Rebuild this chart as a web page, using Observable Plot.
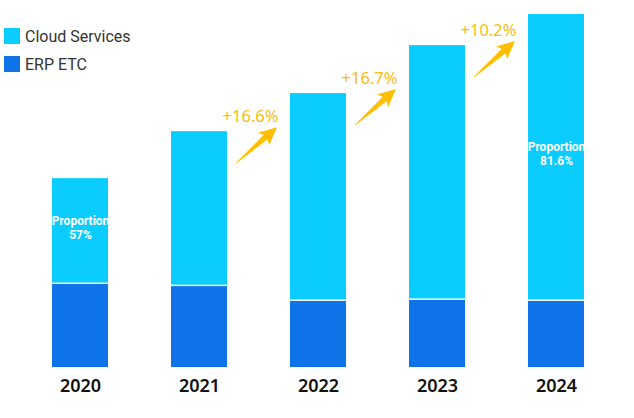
<!DOCTYPE html>
<html>
<head>
<meta charset="utf-8">
<script src="https://cdn.jsdelivr.net/npm/d3@7"></script>
<script src="https://cdn.jsdelivr.net/npm/@observablehq/plot@0.6"></script>
<style>
  html, body { margin: 0; padding: 0; background: #fff; }
  #wrap { position: relative; width: 634px; height: 418px; }
  .legend { position: absolute; left: 4px; top: 28px; font-family: Roboto, "Noto Sans", sans-serif; font-size: 16px; color: #333; }
  .legend .item { display: flex; align-items: center; height: 16px; margin-bottom: 12px; }
  .legend .sw { width: 16px; height: 16px; margin-right: 5px; }
</style>
</head>
<body>
<div id="wrap">
  <div class="legend" id="legend"></div>
</div>
<script>
// ---- data ----
const years = ["2020", "2021", "2022", "2023", "2024"];
const erpValues = [23.5, 22.9, 18.7, 19.0, 18.7];
const cloudValues = [30.0, 43.9, 58.9, 72.2, 81.3];
const seriesNames = ["Cloud Services", "ERP ETC"];
const seriesColors = ["#0ACCFF", "#0E72E8"];
const growthFrom = ["2021", "2022", "2023"];
const growthLabels = ["+16.6%", "+16.7%", "+10.2%"];
const proportionYears = ["2020", "2024"];
const proportionLabels = ["Proportion\n57%", "Proportion\n81.6%"];

const rows = years.map((year, i) => ({
  year, erp: erpValues[i], cloud: cloudValues[i], total: erpValues[i] + cloudValues[i]
}));
const byYear = new Map(rows.map(d => [d.year, d]));
const growth = growthFrom.map((year, i) => ({year, label: growthLabels[i], total: byYear.get(year).total}));
const props = proportionYears.map((year, i) => {
  const r = byYear.get(year);
  return {year, label: proportionLabels[i], mid: r.erp + r.cloud / 2};
});

const gold = "#FFBF00";

const chart = Plot.plot({
  width: 634,
  height: 418,
  marginLeft: 51,
  marginRight: 50,
  marginTop: 14,
  marginBottom: 51,
  style: {background: "transparent", overflow: "visible"},
  x: {domain: years, paddingInner: 0.53, paddingOuter: 0, label: null},
  y: {domain: [0, 100], axis: null},
  marks: [
    Plot.barY(rows, {x: "year", y1: 0, y2: "erp", fill: seriesColors[1]}),
    Plot.barY(rows, {x: "year", y1: "erp", y2: "total", fill: seriesColors[0], insetBottom: 1.5}),
    Plot.text(props, {
      x: "year", y: "mid", text: "label", fill: "white", fontWeight: "bold",
      fontSize: 12, lineHeight: 1.17, dy: -4,
      fontFamily: "Roboto, 'Noto Sans', sans-serif"
    }),
    Plot.text(growth, {
      x: "year", y: "total", text: "label", fill: "#F9BC12", fontSize: 16.5,
      fontFamily: "'Noto Sans', sans-serif", dx: 51, dy: -15, lineAnchor: "middle"
    }),
    Plot.axisX({
      tickSize: 0, tickPadding: 12, fontSize: 18, fontWeight: 600,
      fontFamily: "'Noto Sans', sans-serif", fill: "#111", label: null
    })
  ]
});

document.getElementById("wrap").appendChild(chart);
chart.style.position = "absolute";
chart.style.left = "0";
chart.style.top = "0";

// arrows, positioned via the plot's own scales
const sx = chart.scale("x");
const sy = chart.scale("y");
const bw = sx.bandwidth;
const svg = d3.select(chart);
function arrowPath(x0, y0, x1, y1) {
  const dx = x1 - x0, dy = y1 - y0, L = Math.hypot(dx, dy);
  const ux = dx / L, uy = dy / L, nx = -uy, ny = ux;
  const h = 15;
  const P = (a, w) => [x0 + ux * a + nx * w, y0 + uy * a + ny * w];
  const pts = [P(0, 0.3), P(L - h, 3), P(L - h - 3, 8.5), P(L, 0), P(L - h - 3, -8.5), P(L - h, -3), P(0, -0.3)];
  return "M" + pts.map(p => p.join(",")).join("L") + "Z";
}
growth.forEach(g => {
  const cx = sx.apply(g.year) + bw / 2;
  const ty = sy.apply(g.total);
  svg.append("path")
    .attr("d", arrowPath(cx + 37, ty + 32, cx + 78, ty - 4))
    .attr("fill", gold);
});

// legend
const legend = document.getElementById("legend");
seriesNames.forEach((name, i) => {
  const item = document.createElement("div");
  item.className = "item";
  item.innerHTML = `<span class="sw" style="background:${seriesColors[i]}"></span><span>${name}</span>`;
  legend.appendChild(item);
});
legend.style.zIndex = 2;
</script>
</body>
</html>
